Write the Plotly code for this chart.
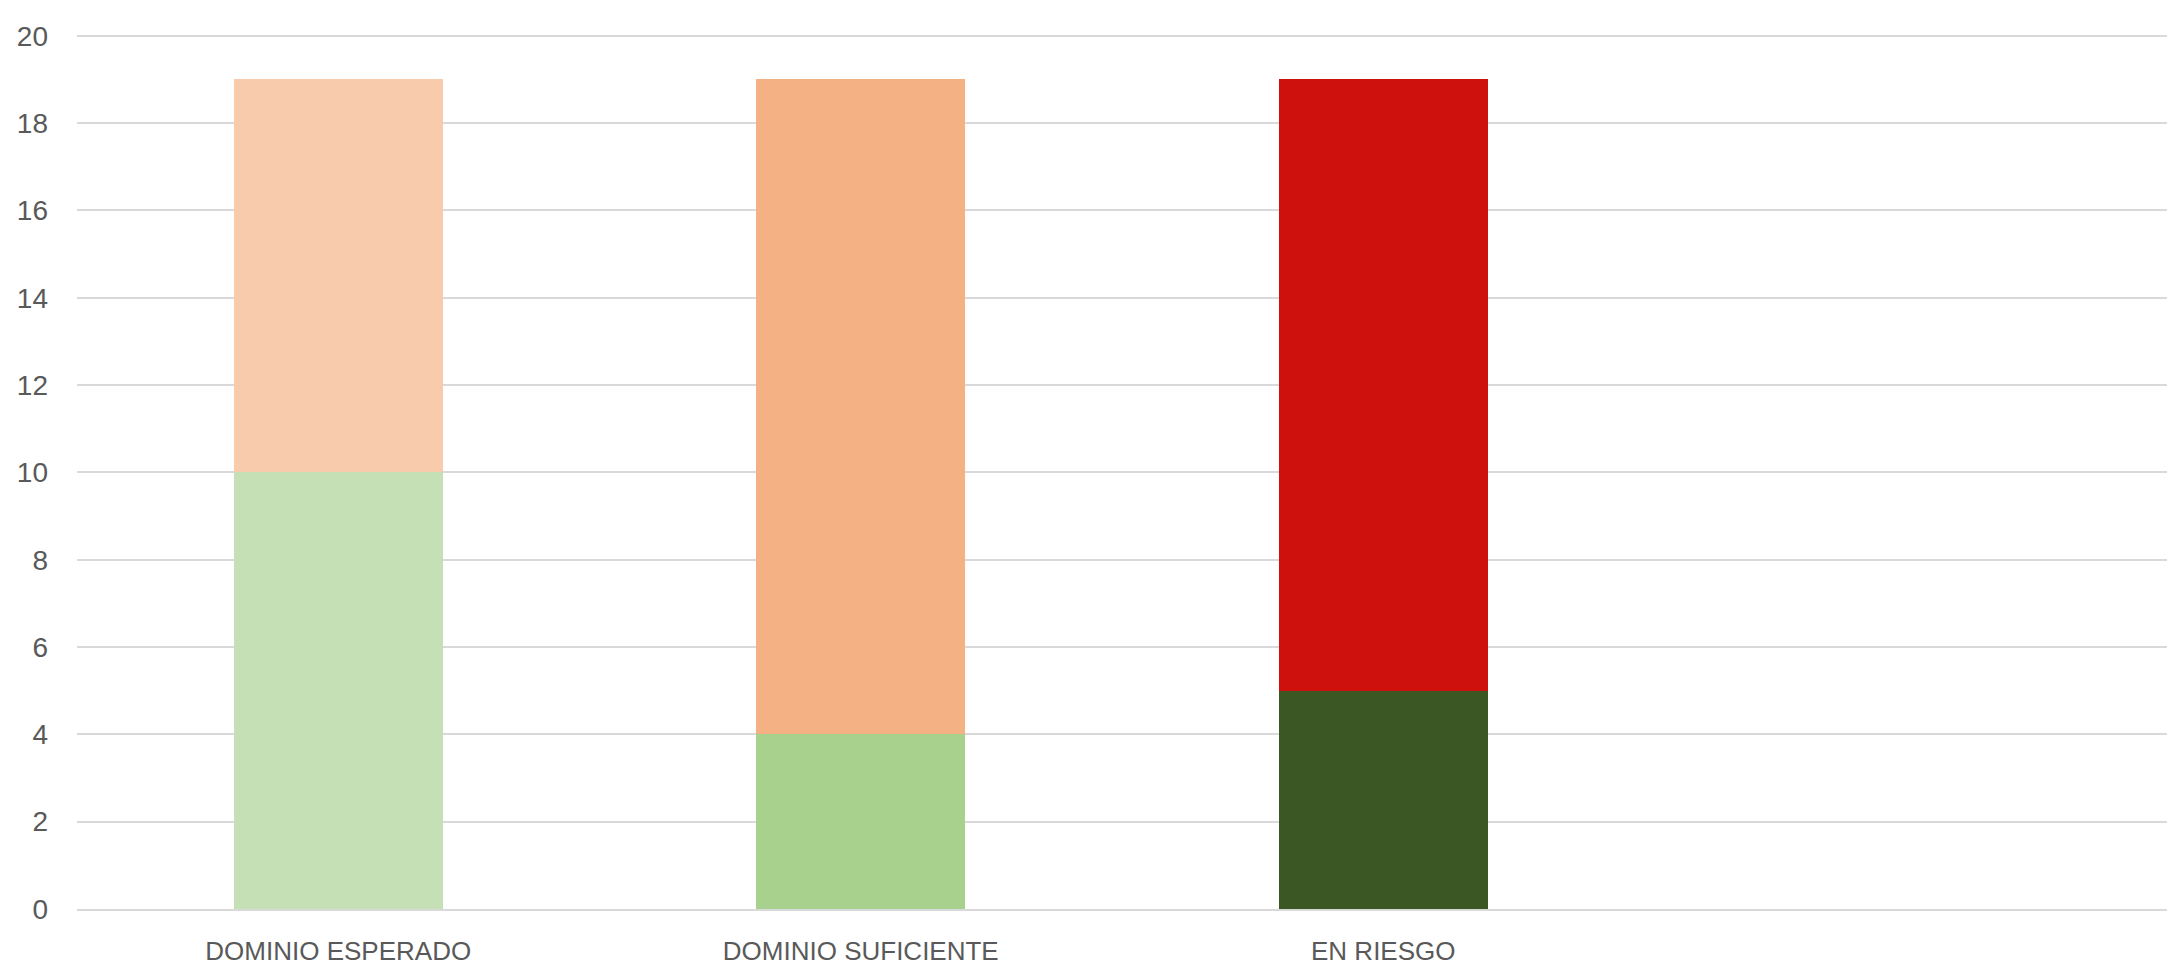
import plotly.graph_objects as go

categories = ["DOMINIO ESPERADO", "DOMINIO SUFICIENTE", "EN RIESGO"]
lower_values = [10, 4, 5]
upper_values = [9, 15, 14]
lower_colors = ["#C5E0B4", "#A9D18E", "#3B5724"]
upper_colors = ["#F8CBAD", "#F4B183", "#CE110D"]
y_ticks = [0, 2, 4, 6, 8, 10, 12, 14, 16, 18, 20]

FONT = "Liberation Sans, Arial, sans-serif"

fig = go.Figure()
fig.add_trace(go.Bar(x=categories, y=lower_values, marker=dict(color=lower_colors, line=dict(width=0)),
                     showlegend=False, hoverinfo="x+y"))
fig.add_trace(go.Bar(x=categories, y=upper_values, marker=dict(color=upper_colors, line=dict(width=0)),
                     showlegend=False, hoverinfo="x+y"))

fig.update_layout(
    barmode="stack",
    bargap=0.6,
    width=2163,
    height=962,
    margin=dict(l=69, r=4, t=26, b=59),
    paper_bgcolor="white",
    plot_bgcolor="white",
    font=dict(family=FONT, size=26, color="#595959"),
    xaxis=dict(
        type="category",
        range=[-0.5, 3.5],
        showgrid=False,
        showline=True,
        linecolor="#D9D9D9",
        linewidth=2,
        ticks="",
        ticklabelstandoff=18,
        tickfont=dict(family=FONT, size=26, color="#595959"),
    ),
    yaxis=dict(
        range=[0, 20.04],
        tickvals=y_ticks,
        showgrid=True,
        gridcolor="#D9D9D9",
        gridwidth=2,
        zeroline=False,
        showline=False,
        ticks="",
        ticklabelstandoff=28,
        tickfont=dict(family=FONT, size=28, color="#595959"),
    ),
)

fig.write_html("out.html")
